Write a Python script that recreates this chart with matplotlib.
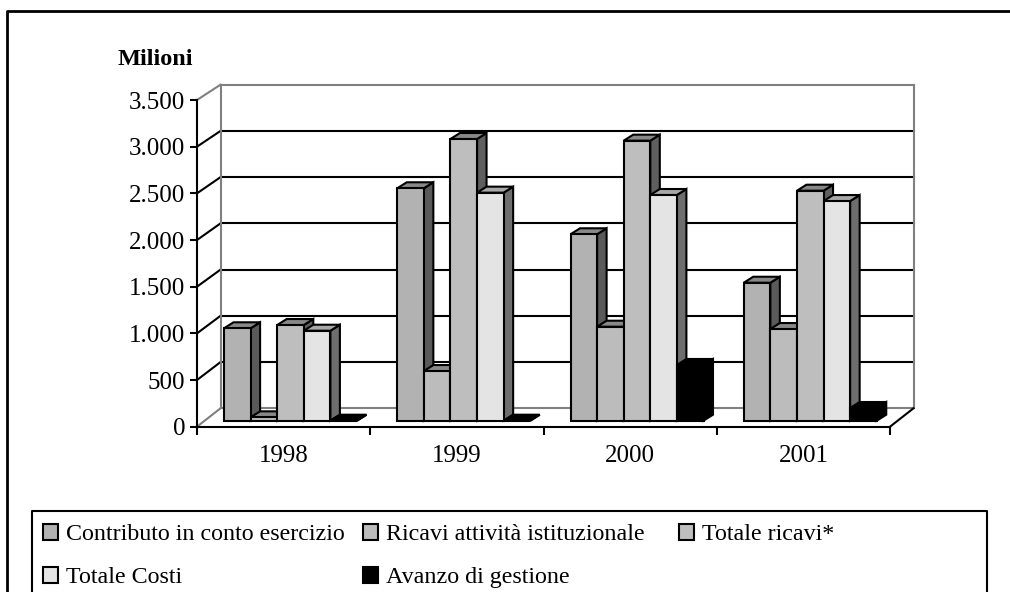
import numpy as np
import matplotlib
matplotlib.use("Agg")
import matplotlib.pyplot as plt
from matplotlib.patches import Polygon, Rectangle
from matplotlib.lines import Line2D

# Data
years = ["1998", "1999", "2000", "2001"]
contributo = [990, 2490, 1997, 1478]
ricavi_ist = [36, 532, 1007, 982]
totale_ricavi = [1025, 3018, 3000, 2464]
totale_costi = [964, 2443, 2418, 2353]
avanzo = [0, 0, 597, 136]
y_ticks = [0, 500, 1000, 1500, 2000, 2500, 3000, 3500]
y_labels = ["0", "500", "1.000", "1.500", "2.000", "2.500", "3.000", "3.500"]
names = ["Contributo in conto esercizio", "Ricavi attività istituzionale", "Totale ricavi*",
         "Totale Costi", "Avanzo di gestione"]

# face, side, top colours for each series
face_cols = ["#b2b2b2", "#bcbcbc", "#bebebe", "#e4e4e4", "#000000"]
side_cols = ["#5a5a5a", "#5f5f5f", "#5f5f5f", "#6e6e6e", "#000000"]
top_cols = ["#888888", "#888888", "#888888", "#a8a8a8", "#000000"]

W, H = 1010, 592
fig = plt.figure(figsize=(W / 100, H / 100), dpi=100)
plt.rcParams["font.family"] = ["Liberation Serif", "DejaVu Serif"]

# axes covers the front plane of the fake 3d box
x0, x1, y0, y1 = 197, 890, 426.7, 100
ax = fig.add_axes([x0 / W, 1 - y0 / H, (x1 - x0) / W, (y0 - y1) / H])
ax.set_xlim(0, 4)
ax.set_ylim(0, 3500)
ax.patch.set_alpha(0)
for s in ["top", "right"]:
    ax.spines[s].set_visible(False)
for s in ["left", "bottom"]:
    ax.spines[s].set_linewidth(1.5)
    ax.spines[s].set_zorder(20)

px_x = 4 / (x1 - x0)
px_y = 3500 / (y0 - y1)
depth_x = 23.5 * px_x   # full depth of the box
depth_y = 18.4 * px_y
back_scale = 323.6 / 326.7  # back wall is a touch shorter than the front axis

ax.set_yticks(y_ticks)
ax.set_yticklabels(y_labels)
ax.set_xticks([0, 1, 2, 3, 4])
ax.set_xticklabels([])
ax.set_xticks([0.5, 1.5, 2.5, 3.5], labels=years, minor=True)
ax.tick_params(axis="y", length=5, width=1.5, labelsize=18, pad=3.5)
ax.tick_params(axis="x", which="major", length=6, width=1.5)
ax.tick_params(axis="x", which="minor", length=0, labelsize=18, pad=13)

# walls and gridlines
GREY = "#808080"
for v in y_ticks:
    c = GREY if v in (0, 3500) else "black"
    back = depth_y + v * back_scale
    ax.plot([depth_x, 4 + depth_x], [back, back], color=c, lw=1.5, clip_on=False, zorder=1)
    ax.plot([0, depth_x], [v, back], color=c, lw=1.5, clip_on=False, zorder=1)
top_back = depth_y + 3500 * back_scale
ax.plot([depth_x, depth_x], [depth_y, top_back], color=GREY, lw=1.5, clip_on=False, zorder=1)
ax.plot([4 + depth_x, 4 + depth_x], [depth_y, top_back], color=GREY, lw=1.5, clip_on=False, zorder=1)
ax.plot([4, 4 + depth_x], [0, depth_y], color="black", lw=1.5, clip_on=False, zorder=1)

# bars
series = [contributo, ricavi_ist, totale_ricavi, totale_costi, avanzo]
bar_w = 26.6 * px_x
start = 19 * px_x
off_x = 8 * px_x    # bars start a little behind the front plane
off_y = 6 * px_y
dx = 9.5 * px_x     # bar depth
dy = 6 * px_y
for i in range(4):
    for j, vals in enumerate(series):
        v = vals[i]
        xl = i + start + off_x + j * bar_w
        xr = xl + bar_w
        b = off_y
        t = b + v
        z = 5 + j
        ed = "black"
        ax.add_patch(Polygon([(xr, b), (xr + dx, b + dy), (xr + dx, t + dy), (xr, t)],
                             fc=side_cols[j], ec=ed, lw=1.5, zorder=z, clip_on=False))
        ax.add_patch(Polygon([(xl, t), (xl + dx, t + dy), (xr + dx, t + dy), (xr, t)],
                             fc=top_cols[j], ec=ed, lw=1.5, zorder=z, clip_on=False))
        ax.add_patch(Rectangle((xl, b), bar_w, v, fc=face_cols[j], ec=ed, lw=1.5, zorder=z, clip_on=False))

# title over the axis
fig.text(118 / W, 1 - 65 / H, "Milioni", fontsize=17.5, fontweight="bold", va="baseline", ha="left")

# outer frame and legend box
fig.add_artist(Line2D([6.5 / W, 6.5 / W, 1], [0, 1 - 10.5 / H, 1 - 10.5 / H], color="black", lw=2))
fig.add_artist(Line2D([32 / W, 32 / W, 987 / W, 987 / W], [0, 1 - 511 / H, 1 - 511 / H, 0], color="black", lw=1.5))

# legend columns are evenly spaced, so one legend for each column
columns = [([0, 3], 43), ([1, 4], 363), ([2], 679)]
for idx, left in columns:
    handles = [Rectangle((0, 0), 1, 1, fc=face_cols[k], ec="black", lw=1.5) for k in idx]
    fig.legend(handles, [names[k] for k in idx], frameon=False,
               loc="upper left", bbox_to_anchor=(left / W, 1 - 524 / H), fontsize=17.3,
               handlelength=0.62, handleheight=0.62, handletextpad=0.33,
               labelspacing=0.91, borderpad=0, borderaxespad=0)

fig.savefig("out.png", dpi=100)
